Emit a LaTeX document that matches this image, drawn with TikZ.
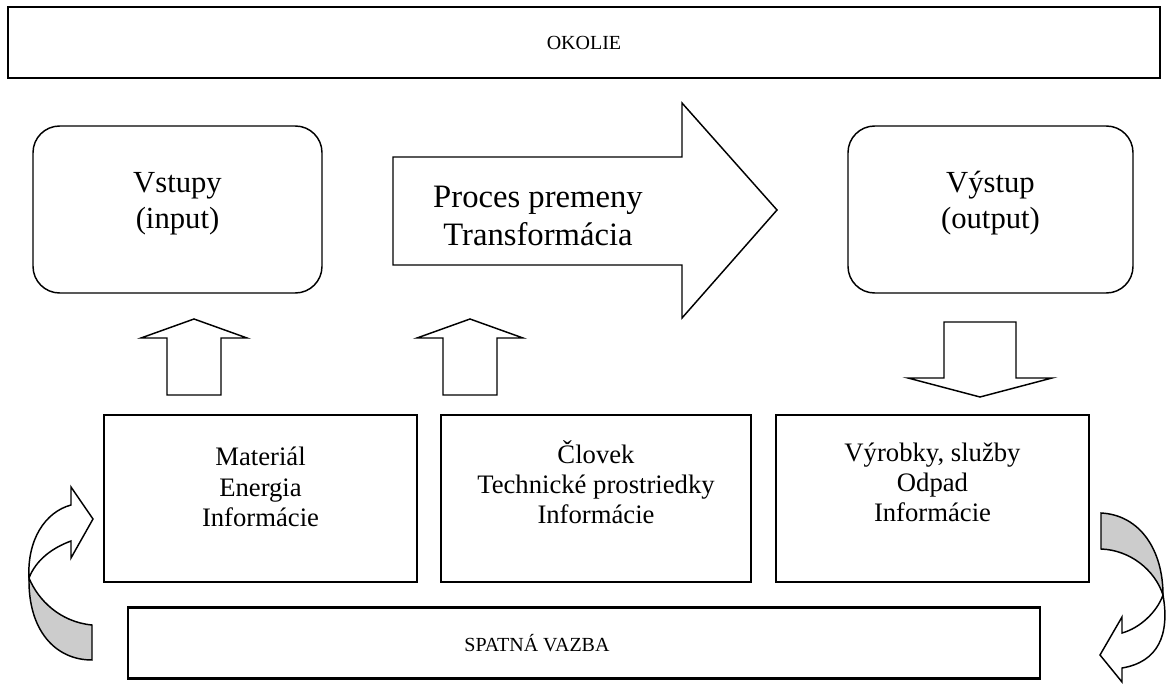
\documentclass[tikz,border=0pt]{standalone}
\usepackage{fontspec}
\setmainfont{Liberation Serif}
\begin{document}
\begin{tikzpicture}[x=0.75pt,y=-0.75pt,line join=miter,line width=1.1pt]
	\tikzset{box/.style={draw,rectangle,inner sep=0pt,minimum height=125.25pt},
		round box/.style={box,rounded corners=20pt},
		frame box/.style={draw,rectangle,inner sep=0pt,line width=1.8pt,minimum height=53.5pt},
		txt/.style={align=center,inner sep=0pt},
		block arrow/.style={draw,fill=white},
		twist/.style={draw,fill=black!20}}
	\useasboundingbox (0,0) rectangle (1167,684);
	% okolie a spatna vazba
	\node[frame box,minimum width=864pt] (okolie) at (584,42.5) {\fontsize{15}{18}\selectfont OKOLIE};
	\node[frame box,minimum width=684pt] (vazba) at (584,643) {};
	\node[txt,font=\fontsize{15}{18}\selectfont] (vazbatext) at (537,643) {SPATNÁ VAZBA};
	% vstupy, vystup
	\node[round box,minimum width=216.75pt] (vstupy) at (177.5,209.5) {};
	\node[round box,minimum width=213.75pt] (vystup) at (990.5,209.5) {};
	\node[txt,font=\fontsize{23}{27}\selectfont] (vstupytext) at (177.5,203.5) {Vstupy\\(input)};
	\node[txt,font=\fontsize{23}{27}\selectfont] (vystuptext) at (990.5,203.5) {Výstup\\(output)};
	% proces premeny
	\draw[block arrow] (393,157)--(682,157)--(682,103)--(777,210)--(682,318)--(682,265)--(393,265)--cycle;
	\node[txt,font=\fontsize{24.5}{29}\selectfont] (proces) at (538,216) {Proces premeny\\Transformácia};
	% spodne boxy
	\node[box,minimum width=234.75pt] (material) at (260.5,498.5) {};
	\node[box,minimum width=232.5pt] (clovek) at (596,498.5) {};
	\node[box,minimum width=234.75pt] (vyrobky) at (932.5,498.5) {};
	\node[txt,font=\fontsize{20}{23}\selectfont] (materialtext) at (260.5,487) {Materiál\\Energia\\Informácie};
	\node[txt,font=\fontsize{20}{22.5}\selectfont] (clovektext) at (596,482) {Človek\\Technické prostriedky\\Informácie};
	\node[txt,font=\fontsize{20}{22.5}\selectfont] (vyrobkytext) at (932.5,482) {Výrobky, služby\\Odpad\\Informácie};
	% sipky hore a dole
	\foreach \x in {194,470}
	\draw[block arrow] (\x-27,395)--(\x-27,338)--(\x-53,338)--(\x,319)--(\x+53,338)--(\x+27,338)--(\x+27,395)--cycle;
	\draw[block arrow] (944,322)--(944,378)--(908,378)--(980,397)--(1052,378)--(1016,378)--(1016,322)--cycle;
	% spatna vazba - zahnute sipky
	\draw[twist] (29,578) .. controls (38,600) and (60,622) .. (92,625) -- (92,660) .. controls (55,660) and (28,630) .. (29,578) -- cycle;
	\draw[block arrow] (29,578) .. controls (27,540) and (45,512) .. (71,505) -- (71,487) -- (93,519) -- (71,558) -- (71,541) .. controls (52,548) and (36,560) .. (29,578) -- cycle;
	\draw[twist] (1101,513) .. controls (1140,515) and (1163,550) .. (1163,595) .. controls (1155,570) and (1130,550) .. (1101,549) -- cycle;
	\draw[block arrow] (1163,595) .. controls (1170,635) and (1158,662) .. (1122,668) -- (1122,682) -- (1100,655) -- (1122,617) -- (1122,633) .. controls (1140,628) and (1157,612) .. (1163,595) -- cycle;
\end{tikzpicture}
\end{document}
